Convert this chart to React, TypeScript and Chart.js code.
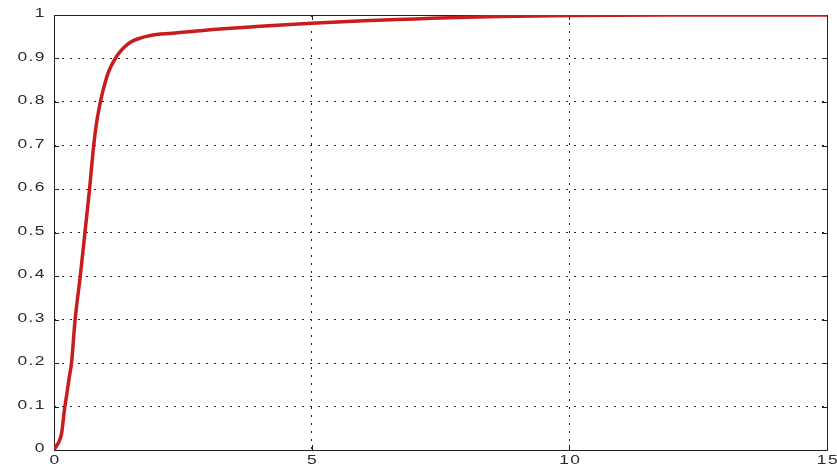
import React, { useEffect, useRef } from "react";
import { Chart, registerables } from "chart.js";

Chart.register(...registerables);

const xValues = [0, 0.05, 0.1, 0.15, 0.2, 0.25, 0.3, 0.34, 0.41, 0.51, 0.6, 0.69, 0.77, 0.83, 0.9, 0.97, 1.06, 1.19, 1.3, 1.42, 1.54, 1.87, 2.3, 2.84, 4, 5, 6, 7, 8, 9, 10, 12, 15];
const yValues = [0, 0.01, 0.02, 0.04, 0.09, 0.13, 0.17, 0.2, 0.3, 0.4, 0.5, 0.6, 0.7, 0.755, 0.8, 0.835, 0.87, 0.9, 0.918, 0.932, 0.941, 0.953, 0.958, 0.964, 0.974, 0.981, 0.987, 0.991, 0.995, 0.997, 0.999, 1, 1];
const yTickLabels = ["0", "0.1", "0.2", "0.3", "0.4", "0.5", "0.6", "0.7", "0.8", "0.9", "1"];
const xTickLabels = ["0", "5", "10", "15"];

const matlabAxes = {
  id: "matlabAxes",
  beforeDatasetsDraw(chart: any) {
    const { ctx, chartArea: a, scales } = chart;
    ctx.save();
    ctx.strokeStyle = "#222";
    ctx.lineWidth = 1;
    ctx.strokeRect(a.left + 0.5, a.top + 0.5, a.right - a.left, a.bottom - a.top);
    const tl = 5;
    ctx.beginPath();
    scales.y.ticks.forEach((t: any) => {
      const py = Math.round(scales.y.getPixelForValue(t.value)) + 0.5;
      ctx.moveTo(a.left, py);
      ctx.lineTo(a.left + tl, py);
      ctx.moveTo(a.right, py);
      ctx.lineTo(a.right - tl, py);
    });
    scales.x.ticks.forEach((t: any) => {
      const px = Math.round(scales.x.getPixelForValue(t.value)) + 0.5;
      ctx.moveTo(px, a.bottom);
      ctx.lineTo(px, a.bottom - tl);
      ctx.moveTo(px, a.top);
      ctx.lineTo(px, a.top + tl);
    });
    ctx.stroke();
    ctx.restore();
  },
  afterDraw(chart: any) {
    const { ctx, chartArea: a, scales } = chart;
    ctx.save();
    ctx.fillStyle = "#2a2a2a";
    ctx.font = "12px 'Liberation Sans', Arial, sans-serif";
    (ctx as any).letterSpacing = "1px";
    const sx = 1.45;
    scales.y.ticks.forEach((t: any, i: number) => {
      const py = scales.y.getPixelForValue(t.value);
      ctx.save();
      ctx.translate(a.left - 8, py - 1);
      ctx.scale(sx, 1);
      ctx.textAlign = "right";
      ctx.textBaseline = "middle";
      ctx.fillText(yTickLabels[i] ?? String(t.value), 0, 0);
      ctx.restore();
    });
    scales.x.ticks.forEach((t: any, i: number) => {
      const px = scales.x.getPixelForValue(t.value);
      ctx.save();
      ctx.translate(px + 1, a.bottom + 4);
      ctx.scale(sx, 1.05);
      ctx.textAlign = "center";
      ctx.textBaseline = "top";
      ctx.fillText(xTickLabels[i] ?? String(t.value), 0, 0);
      ctx.restore();
    });
    ctx.restore();
  },
};

export default function App() {
  const ref = useRef<HTMLCanvasElement>(null);
  useEffect(() => {
    if (!ref.current) return;
    const chart = new Chart(ref.current, {
      type: "line",
      data: {
        datasets: [
          {
            data: xValues.map((x, i) => ({ x, y: yValues[i] })),
            borderColor: "rgb(200,28,30)",
            borderWidth: 3.5,
            pointRadius: 0,
            fill: false,
            cubicInterpolationMode: "monotone",
          },
        ],
      },
      options: {
        animation: false,
        responsive: false,
        maintainAspectRatio: false,
        layout: { padding: { top: 15, right: 10, left: 0, bottom: 0 } },
        plugins: { legend: { display: false }, tooltip: { enabled: false } },
        scales: {
          x: {
            type: "linear",
            min: 0,
            max: 15,
            ticks: { stepSize: 5, display: false },
            grid: { color: "#222", lineWidth: 1, drawTicks: false },
            border: { display: false, dash: [2, 6] },
            afterFit(scale: any) {
              scale.height = 16;
            },
          },
          y: {
            type: "linear",
            min: 0,
            max: 1,
            ticks: { stepSize: 0.1, display: false },
            grid: { color: "#222", lineWidth: 1, drawTicks: false },
            border: { display: false, dash: [2, 6] },
            afterFit(scale: any) {
              scale.width = 54;
            },
          },
        },
      },
      plugins: [matlabAxes],
    } as any);
    return () => chart.destroy();
  }, []);
  return (
    <div style={{ position: "fixed", left: 0, top: 0, width: 837, height: 466, background: "#fff" }}>
      <canvas ref={ref} width={837} height={466} style={{ display: "block" }} />
    </div>
  );
}
